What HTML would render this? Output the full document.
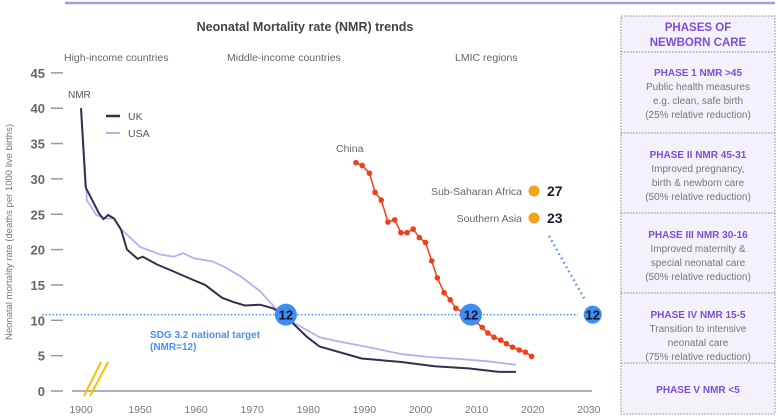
<!DOCTYPE html>
<html><head><meta charset="utf-8"><style>
html,body{margin:0;padding:0;background:#fff;width:778px;height:418px;overflow:hidden}
svg{display:block;font-family:"Liberation Sans",sans-serif}
</style></head><body>
<svg id="chart" width="778" height="418" viewBox="0 0 778 418">
<line x1="65" y1="3" x2="775" y2="3" stroke="#a99be0" stroke-width="2.5"/>
<text x="305" y="31" text-anchor="middle" font-size="12.5" font-weight="bold" fill="#444">Neonatal Mortality rate (NMR) trends</text>
<text x="64" y="61" font-size="10.5" fill="#666">High-income countries</text>
<text x="227" y="61" font-size="10.5" fill="#666">Middle-income countries</text>
<text x="455" y="61" font-size="10.5" fill="#666">LMIC regions</text>
<text transform="translate(12,232) rotate(-90)" text-anchor="middle" font-size="9.5" fill="#777">Neonatal mortality rate (deaths per 1000 live births)</text>
<g id="yaxis"></g>
<g id="xaxis"></g>
<line x1="72" y1="391" x2="592" y2="391" stroke="#999" stroke-width="1.5"/>
<g><line x1="84" y1="396" x2="101" y2="362" stroke="#f5c200" stroke-width="2"/><line x1="90" y1="396" x2="108" y2="362" stroke="#f5c200" stroke-width="2"/></g>
<line id="target" x1="42" x2="578" stroke="#4a90f0" stroke-width="1.5" stroke-dasharray="1.5 2"/>
<text x="150" y="338" font-size="10" font-weight="bold" fill="#4a90f0">SDG 3.2 national target</text>
<text x="150" y="350" font-size="10" font-weight="bold" fill="#4a90f0">(NMR=12)</text>
<line x1="549" y1="236" x2="585" y2="300" stroke="#4a90f0" stroke-width="2.5" stroke-dasharray="1.5 3.5"/>
<g id="series"></g>
<text x="68" y="98" font-size="10" fill="#555">NMR</text>
<line x1="106" y1="116" x2="120" y2="116" stroke="#3a2c4a" stroke-width="2.5"/>
<text x="128" y="120" font-size="10.5" fill="#555">UK</text>
<line x1="106" y1="133" x2="120" y2="133" stroke="#b8aef0" stroke-width="2"/>
<text x="128" y="137" font-size="10.5" fill="#555">USA</text>
<text x="336" y="152" font-size="10.5" fill="#666">China</text>
<text x="522" y="195" text-anchor="end" font-size="10.5" fill="#666">Sub-Saharan Africa</text>
<circle cx="534" cy="191" r="5.5" fill="#f7a21b"/>
<text x="547" y="196" font-size="14" font-weight="bold" fill="#221a3a">27</text>
<text x="522" y="222" text-anchor="end" font-size="10.5" fill="#666">Southern Asia</text>
<circle cx="534" cy="218" r="5.5" fill="#f7a21b"/>
<text x="547" y="223" font-size="14" font-weight="bold" fill="#221a3a">23</text>
<g id="badges"></g>
<g>
<rect x="621" y="16" width="154" height="398" fill="#f4f1fb" stroke="#888" stroke-dasharray="1.5 1.5"/>
<g stroke="#888" stroke-dasharray="1.5 1.5"><line x1="621" y1="52" x2="775" y2="52"/><line x1="621" y1="133" x2="775" y2="133"/><line x1="621" y1="213" x2="775" y2="213"/><line x1="621" y1="293" x2="775" y2="293"/><line x1="621" y1="363" x2="775" y2="363"/></g>
<g text-anchor="middle" font-size="10" fill="#777">
<text x="698" y="31" font-size="11.5" font-weight="bold" fill="#7a4fd6">PHASES OF</text>
<text x="698" y="46" font-size="11.5" font-weight="bold" fill="#7a4fd6">NEWBORN CARE</text>
<text x="698" y="76" font-weight="bold" fill="#7a4fd6">PHASE 1 NMR &gt;45</text>
<text x="698" y="90">Public health measures</text><text x="698" y="104">e.g. clean, safe birth</text><text x="698" y="118">(25% relative reduction)</text>
<text x="698" y="158" font-weight="bold" fill="#7a4fd6">PHASE II NMR 45-31</text>
<text x="698" y="172">Improved pregnancy,</text><text x="698" y="186">birth &amp; newborn care</text><text x="698" y="200">(50% relative reduction)</text>
<text x="698" y="238" font-weight="bold" fill="#7a4fd6">PHASE III NMR 30-16</text>
<text x="698" y="252">Improved maternity &amp;</text><text x="698" y="266">special neonatal care</text><text x="698" y="280">(50% relative reduction)</text>
<text x="698" y="318" font-weight="bold" fill="#7a4fd6">PHASE IV NMR 15-5</text>
<text x="698" y="332">Transition to intensive</text><text x="698" y="346">neonatal care</text><text x="698" y="360">(75% relative reduction)</text>
<text x="698" y="393" font-weight="bold" fill="#7a4fd6">PHASE V NMR &lt;5</text>
</g></g>
</svg>
<script>
const yTicks=[0,5,10,15,20,25,30,35,40,45];
const xTicks=[1900,1950,1960,1970,1980,1990,2000,2010,2020,2030];
const ukYears=[1900,1904,1915,1919,1923,1928,1934,1939,1948,1950.5,1953,1956,1959.5,1961.6,1964.6,1966.6,1968.7,1971.4,1973.7,1976.2,1979.7,1982,1989.5,1996.6,2002.5,2008.5,2014,2017];
const ukValues=[40,28.8,25.2,24.3,24.9,24.4,22.8,20,18.7,19,17.9,16.9,15.7,15,13.2,12.6,12.1,12.2,11.7,10.4,7.7,6.3,4.6,4.1,3.5,3.2,2.7,2.7];
const usaYears=[1900,1905,1913,1921,1928,1934,1950,1953.6,1956,1957.7,1959.5,1963,1964.9,1968,1971.4,1974.4,1977.3,1982,1984.8,1990.8,1996.7,2001.7,2007.4,2012,2017];
const usaValues=[40,27,24.9,24.4,24.4,22.9,20.4,19.3,19,19.5,18.8,18.3,17.6,16.2,14.1,11.5,9.7,7.6,7.1,6.2,5.2,4.8,4.5,4.2,3.7];
const chinaYears=[1988.5,1989.6,1990.9,1991.9,1993,1994.2,1995.4,1996.5,1997.6,1998.7,1999.8,2000.9,2002,2003,2004.2,2005.3,2006.3,2007.5,2008.6,2009.9,2011,2012,2013.1,2014.3,2015.3,2016.4,2017.6,2018.7,2019.8];
const chinaValues=[32.3,31.9,30.8,28.1,27,23.9,24.2,22.4,22.4,22.9,21.7,21,18.4,16,13.9,12.9,11.7,11.2,10.8,9.8,9,8.2,7.6,7.2,6.7,6.2,5.8,5.5,4.9];
const targetValue=10.8;
const badgeYears=[1976,2009,2030.7];
const badgeLabels=["12","12","12"];
function X(yr){return yr<1950?81+(yr-1900)*59/50:140+(yr-1950)*5.61;}
function Y(v){return 391-v*7.07;}
const NS="http://www.w3.org/2000/svg";
function mk(t,a,p){const e=document.createElementNS(NS,t);for(const k in a)e.setAttribute(k,a[k]);p.appendChild(e);return e;}
const ya=document.getElementById('yaxis');
yTicks.forEach(v=>{
 const t=mk('text',{x:45,y:Y(v)+5,'text-anchor':'end','font-size':13,'font-weight':'bold',fill:'#666'},ya);t.textContent=v;
 
 
 const l=mk('line',{x1:51,x2:63,y1:Y(v),y2:Y(v),stroke:'#999','stroke-width':1.5},ya);
 
 
});
const xa=document.getElementById('xaxis');
xTicks.forEach(v=>{
 const t=mk('text',{x:X(v),y:413,'text-anchor':'middle','font-size':10.5,fill:'#777'},xa);t.textContent=v;
 
 
});
const tl=document.getElementById('target');tl.setAttribute('y1',Y(targetValue));tl.setAttribute('y2',Y(targetValue));
const sg=document.getElementById('series');
function pts(xs,vs){return xs.map((x,i)=>X(x).toFixed(1)+','+Y(vs[i]).toFixed(1)).join(' ');}
const usa=mk('polyline',{points:pts(usaYears,usaValues),fill:'none',stroke:'#b8aef0','stroke-width':1.8},sg);


const uk=mk('polyline',{points:pts(ukYears,ukValues),fill:'none',stroke:'#3a2c4a','stroke-width':2},sg);


const ch=mk('polyline',{points:pts(chinaYears,chinaValues),fill:'none',stroke:'#f0401a','stroke-width':1.5},sg);


chinaYears.forEach((yr,i)=>{
 const c=mk('circle',{cx:X(yr),cy:Y(chinaValues[i]),r:2.8,fill:'#f0401a'},sg);
 
 
});
const bg=document.getElementById('badges');
badgeYears.forEach((yr,i)=>{
 const c=mk('circle',{cx:X(yr),cy:Y(targetValue),r:yr>2020?9:11,fill:'#3d8ef0'},bg);
 
 
 const t=mk('text',{x:X(yr),y:Y(targetValue)+5,'text-anchor':'middle','font-size':13,'font-weight':'bold',fill:'#14122a'},bg);t.textContent=badgeLabels[i];
 
 
});
</script>
</body></html>
